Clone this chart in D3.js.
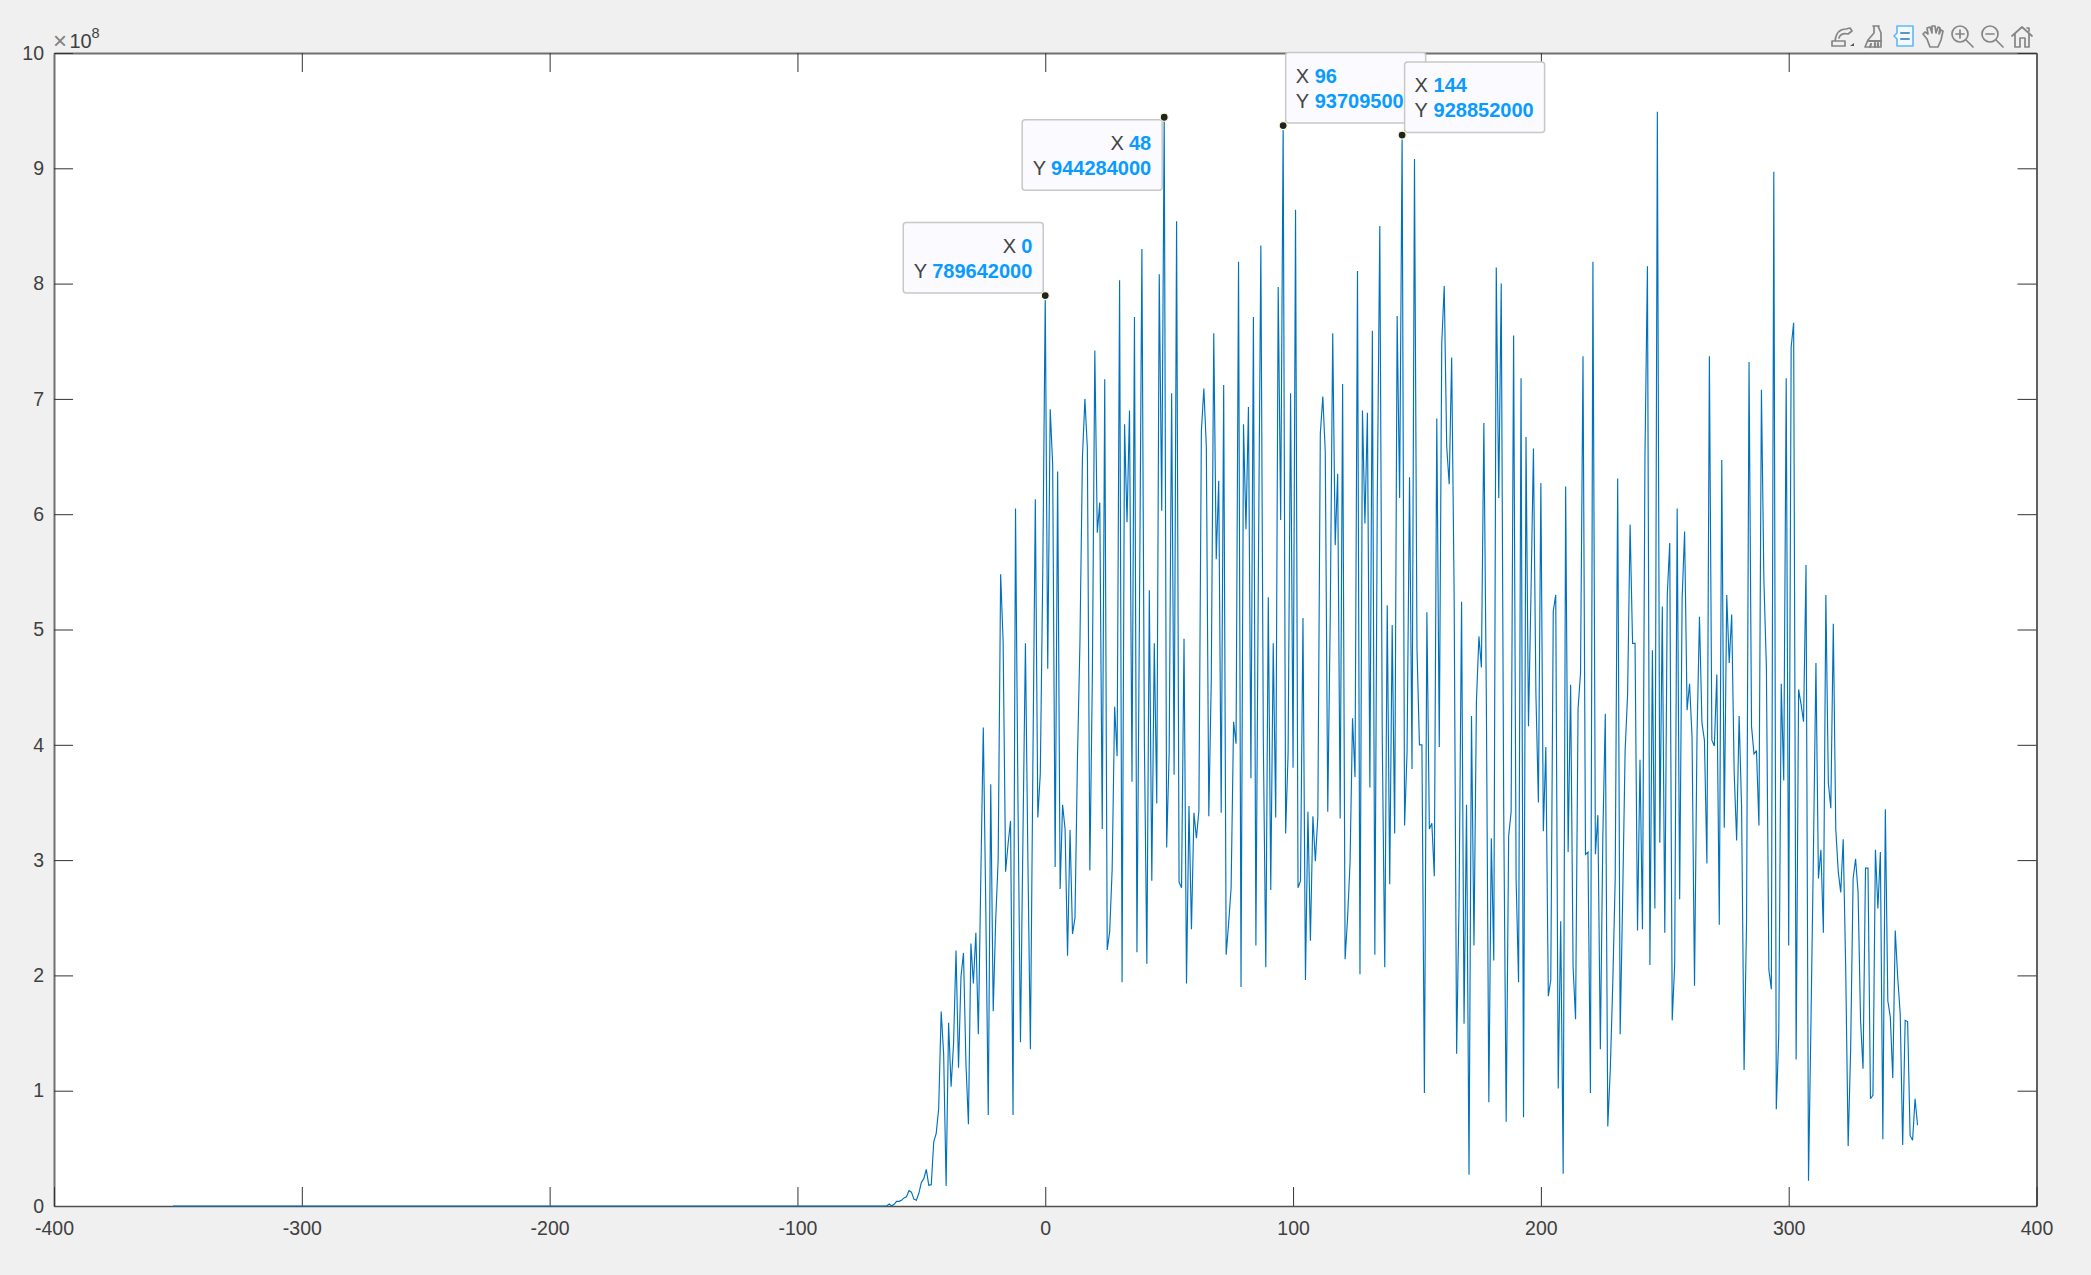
<!DOCTYPE html>
<html>
<head>
<meta charset="utf-8">
<script src="https://cdn.jsdelivr.net/npm/d3@7"></script>
<style>
  html, body { margin: 0; padding: 0; background: #f0f0f0; }
  svg { display: block; }
  text { font-family: "Liberation Sans", Arial, sans-serif; }
</style>
</head>
<body>
<div id="chart"></div>
<script>
// series starts at x = -352, one point per integer x, y in units of 1e8
const xStart = -352;

// x = -352 .. -64
const flatValues = [
  0,0,0,0,0,0,0,0,0,0,0,0,0,0,0,0,0,0,0,0,0,0,0,0,0,0,0,0,0,0,0,0,0,0,0,0,0,0,0,0,
  0,0,0,0,0,0,0,0,0,0,0,0,0,0,0,0,0,0,0,0,0,0,0,0,0,0,0,0,0,0,0,0,0,0,0,0,0,0,0,0,
  0,0,0,0,0,0,0,0,0,0,0,0,0,0,0,0,0,0,0,0,0,0,0,0,0,0,0,0,0,0,0,0,0,0,0,0,0,0,0,0,
  0,0,0,0,0,0,0,0,0,0,0,0,0,0,0,0,0,0,0,0,0,0,0,0,0,0,0,0,0,0,0,0,0,0,0,0,0,0,0,0,
  0,0,0,0,0,0,0,0,0,0,0,0,0,0,0,0,0,0,0,0,0,0,0,0,0,0,0,0,0,0,0,0,0,0,0,0,0,0,0,0,
  0,0,0,0,0,0,0,0,0,0,0,0,0,0,0,0,0,0,0,0,0,0,0,0,0,0,0,0,0,0,0,0,0,0,0,0,0,0,0,0,
  0,0,0,0,0,0,0,0,0,0,0,0,0,0,0,0,0,0,0,0,0,0,0,0,0,0,0,0,0,0,0,0,0,0,0,0,0,0,0,0,
  0,0,0,0,0,0,0,0,0
];

// x = -63 .. -1
const riseValues = [
  .017,0,.015,.04,.04,.05,.07,.08,.133,.12,.06,.05,.11,.205,.237,.318,.18,.185,.557,.63,.846,
  1.687,1.32,.173,1.589,1.034,1.41,2.215,1.2,1.99,2.195,1.236,.71,2.276,1.93,2.37,1.49,2.85,
  4.15,2.6,.79,3.657,1.69,2.48,3.0,5.48,4.9,2.9,3.14,3.34,.79,6.05,3.5,1.42,3.2,4.88,3.0,1.36,
  3.8,6.13,3.37,3.75,5.5
];

// x = 0 .. 352, ten per row
const mainValues = [
  7.89642,4.66,6.91,6.43,2.94,6.37,2.75,3.48,3.27,2.17,
  3.26,2.36,2.5,3.88,4.89,6.49,7.0,6.57,2.91,4.57,
  7.42,5.84,6.1,3.27,7.17,2.22,2.38,2.92,4.33,3.9,
  8.03,1.94,6.78,5.93,6.9,3.68,7.71,2.2,5.1,8.3,
  4.04,2.1,5.34,2.82,4.88,3.49,8.08,6.03,9.44284,3.11,
  3.93,7.05,3.74,8.54,2.81,2.76,4.92,1.93,3.47,2.4,
  3.41,3.19,3.43,6.72,7.09,6.59,3.38,4.57,7.57,5.61,
  6.29,3.41,7.12,2.18,2.45,2.76,4.2,4.01,8.19,1.9,
  6.78,5.87,6.93,3.71,7.71,2.26,5.5,8.33,4.04,2.07,
  5.28,2.74,4.88,3.37,7.97,5.95,9.37095,3.23,3.93,7.05,
  3.8,8.64,2.76,2.82,5.1,1.96,3.42,2.3,3.38,2.99,
  3.38,6.7,7.02,6.54,3.42,5.1,7.57,5.73,6.35,3.36,
  7.13,2.14,2.5,2.98,4.23,3.72,8.11,2.01,6.9,5.92,
  6.88,3.63,7.59,2.18,6.17,8.5,4.04,2.07,5.21,2.79,
  5.04,3.23,7.72,6.14,9.28852,3.3,3.93,6.32,3.79,9.08,
  4.84,4.0,4.0,.98,5.15,3.27,3.32,2.86,6.83,3.98,
  7.48,7.98,6.59,6.26,7.36,5.3,1.32,2.66,5.24,1.58,
  3.48,.27,4.25,2.26,4.38,4.94,4.67,6.79,4.38,.9,
  3.19,2.13,8.14,6.14,8.0,3.45,.73,3.21,3.42,7.55,
  2.84,1.94,7.18,.77,6.67,4.16,5.3,6.57,4.44,3.5,
  6.27,3.25,3.98,1.82,1.96,5.16,5.3,1.02,2.47,.28,
  6.24,3.07,4.52,2.07,1.62,4.31,4.62,7.37,3.05,3.07,
  .98,8.19,3.05,3.39,1.36,3.2,4.27,.69,1.18,1.92,
  2.84,6.31,1.49,2.66,3.95,4.44,5.91,4.88,4.88,2.39,
  3.87,2.4,6.5,8.15,2.09,4.82,2.58,9.49,3.15,5.2,
  2.37,5.3,5.75,1.61,2.1,6.05,2.66,5.27,5.85,4.3,
  4.53,4.07,1.91,4.07,5.11,4.19,4.04,2.97,7.37,4.04,
  3.99,4.61,2.44,6.47,3.28,5.3,4.71,5.13,3.76,3.17,
  4.25,3.45,1.18,2.47,7.32,4.16,3.92,3.95,3.3,7.08,
  5.42,4.68,2.05,1.88,8.97,.84,1.49,4.53,3.69,7.18,
  2.26,7.45,7.66,1.27,4.48,4.35,4.2,5.56,.22,1.61,
  3.09,4.71,2.84,3.09,2.37,5.3,3.67,3.45,5.05,3.27,
  2.9,2.72,3.18,2.07,.52,1.36,2.84,3.01,2.72,1.61,
  1.19,2.93,2.93,.93,.96,3.09,2.58,3.07,.58,3.44,
  1.78,1.64,1.11,2.39,1.98,1.67,.53,1.61,1.6,.61,
  .57,.93,.7
];

const xTicks = [-400, -300, -200, -100, 0, 100, 200, 300, 400];
const yTicks = [0, 1, 2, 3, 4, 5, 6, 7, 8, 9, 10];

// data tips: x, y as shown in the box
const tipX = [0, 48, 96, 144];
const tipY = [789642000, 944284000, 937095000, 928852000];

const W = 2091, H = 1275;
const LEFT = 54, RIGHT = 2036.5, TOP = 53, BOTTOM = 1206;
const TICK = 19;
const FONT = 19.5;

const yValues = flatValues.concat(riseValues, mainValues);
const points = yValues.map((v, i) => [xStart + i, v]);

const svg = d3.select('#chart').append('svg')
    .attr('width', W)
    .attr('height', H);

const x = d3.scaleLinear().domain([-400, 400]).range([LEFT, RIGHT]);
const y = d3.scaleLinear().domain([0, 10]).range([BOTTOM, TOP]);

svg.append('rect')
    .attr('x', LEFT).attr('y', TOP)
    .attr('width', RIGHT - LEFT).attr('height', BOTTOM - TOP)
    .attr('fill', '#fff');

// axes, ticks on all four sides pointing inward
function styleAxis(g, edge, edgeW) {
  g.select('.domain').attr('stroke', edge).attr('stroke-width', edgeW);
  g.selectAll('.tick line').attr('stroke', '#333').attr('stroke-width', 1);
  g.selectAll('.tick text')
      .attr('fill', '#404040')
      .style('font-size', FONT + 'px')
      .style('font-family', '"Liberation Sans", Arial, sans-serif');
}

svg.append('g')
    .attr('transform', `translate(0,${TOP})`)
    .call(d3.axisTop(x).tickValues(xTicks).tickSize(-TICK).tickSizeOuter(0).tickFormat(''))
    .call(g => styleAxis(g, '#707070', 2));
svg.append('g')
    .attr('transform', `translate(${RIGHT},0)`)
    .call(d3.axisRight(y).tickValues(yTicks).tickSize(-TICK).tickSizeOuter(0).tickFormat(''))
    .call(g => styleAxis(g, '#606060', 2));
svg.append('g')
    .attr('transform', `translate(${LEFT},0)`)
    .call(d3.axisLeft(y).tickValues(yTicks).tickSize(-TICK).tickSizeOuter(0).tickPadding(10).tickFormat(String))
    .call(g => styleAxis(g, '#707070', 2));
svg.append('g')
    .attr('transform', `translate(0,${BOTTOM})`)
    .call(d3.axisBottom(x).tickValues(xTicks).tickSize(-TICK).tickSizeOuter(0).tickPadding(15).tickFormat(String))
    .call(g => styleAxis(g, '#505050', 1.6));

// exponent
svg.append('text')
    .attr('x', 53).attr('y', 49)
    .attr('fill', '#808080')
    .style('font-size', '24px')
    .text('×');
svg.append('text')
    .attr('x', 69.5).attr('y', 48)
    .attr('fill', '#404040')
    .style('font-size', '20px')
    .text('10');
svg.append('text')
    .attr('x', 91.5).attr('y', 38)
    .attr('fill', '#404040')
    .style('font-size', '14.5px')
    .text('8');

// series
const line = d3.line().x(d => x(d[0])).y(d => y(d[1]));

svg.append('path')
    .datum(points)
    .attr('d', line)
    .attr('fill', 'none')
    .attr('stroke', '#0072BD')
    .attr('stroke-width', 1.15)
    .attr('stroke-linejoin', 'miter')
    .attr('stroke-miterlimit', 3);

// data tips
const BOX_W = 140, BOX_H = 70.5;
const tipSide = ['left-top', 'left-bottom', 'right-top', 'right-top'];

tipX.forEach((tx, i) => {
  const px = x(tx);
  const py = y(tipY[i] / 1e8);
  const left = tipSide[i].startsWith('left');
  const above = tipSide[i].endsWith('top');
  const bx = left ? px - 2 - BOX_W : px + 2.5;
  const by = above ? py - 2.5 - BOX_H : py + 2.5;

  const g = svg.append('g');
  g.append('rect')
      .attr('x', bx).attr('y', by)
      .attr('width', BOX_W).attr('height', BOX_H)
      .attr('rx', 3)
      .attr('fill', '#fafaff')
      .attr('stroke', '#c8c8c8')
      .attr('stroke-width', 1.5);

  const rows = [['X', tx], ['Y', tipY[i]]];
  rows.forEach((r, k) => {
    const base = by + 30 + k * 25.3;
    const label = g.append('text')
        .attr('y', base)
        .attr('fill', '#444')
        .style('font-size', '20px')
        .text(r[0]);
    const val = g.append('text')
        .attr('y', base)
        .attr('fill', '#0a9bff')
        .attr('font-weight', 'bold')
        .style('font-size', '20px')
        .text(r[1]);
    if (left) {
      const w = val.node().getComputedTextLength();
      val.attr('x', bx + BOX_W - 11);
      val.attr('text-anchor', 'end');
      label.attr('x', bx + BOX_W - 11 - w - 5).attr('text-anchor', 'end');
    } else {
      label.attr('x', bx + 10);
      val.attr('x', bx + 29);
    }
  });

  g.append('circle')
      .attr('cx', px).attr('cy', py)
      .attr('r', 4)
      .attr('fill', '#222')
      .attr('stroke', '#fdfbd0')
      .attr('stroke-width', 1.2);
});

// figure toolbar
const GREY = '#858585';
const toolbar = svg.append('g')
    .attr('fill', 'none')
    .attr('stroke', GREY)
    .attr('stroke-width', 1.7)
    .attr('stroke-linejoin', 'round')
    .attr('stroke-linecap', 'round');

function icon(tx, ty) {
  return toolbar.append('g').attr('transform', `translate(${tx},${ty})`);
}

// brush/edit
let ic = icon(1831, 26);
ic.append('path').attr('d', 'M1,15H14V20H1ZM4,15C5,7 9,3 15,3L19,2L21,5L17,8C12,7 9,9 8,12');
ic.append('path').attr('d', 'M19,20L23,20L23,17Z').attr('fill', '#555').attr('stroke', 'none');

// data brush
ic = icon(1863, 25);
ic.append('path').attr('d', 'M10,1H16M11,1V8L5,15L2,22H18V8L15,1');
ic.append('path').attr('d', 'M5,16H18M8,19L7,22M12,18V22M15,18V22').attr('stroke-width', 2.2);

// data tip, selected
ic = icon(1893, 25);
ic.append('path')
    .attr('d', 'M4,1H20V21H4V14L1,11L4,8Z')
    .attr('stroke', '#5cb8fa')
    .attr('fill', '#f2f8fd')
    .attr('stroke-width', 1.6);
ic.append('path').attr('d', 'M8,8H16M8,14H16').attr('stroke', '#5a95c8').attr('stroke-width', 2);

// pan
ic = icon(1922, 25);
ic.append('path').attr('d', 'M5,14L1,9L3,7L6,9L5,3L8,2L10,8L10,1H13L14,8L16,2L18,3L17,9L19,5L21,6L19,15L16,22H8Z');

// zoom in
ic = icon(1951, 25);
ic.append('circle').attr('cx', 9).attr('cy', 9).attr('r', 8);
ic.append('path').attr('d', 'M15,15L22,22M5,9H13M9,5V13');

// zoom out
ic = icon(1981, 25);
ic.append('circle').attr('cx', 9).attr('cy', 9).attr('r', 8);
ic.append('path').attr('d', 'M15,15L22,22M5,9H13');

// home
ic = icon(2011, 25);
ic.append('path').attr('d', 'M1,11L11,2L21,11M4,9V22H9V13H14V22H18V9M16,3H18V6');
</script>
</body>
</html>
